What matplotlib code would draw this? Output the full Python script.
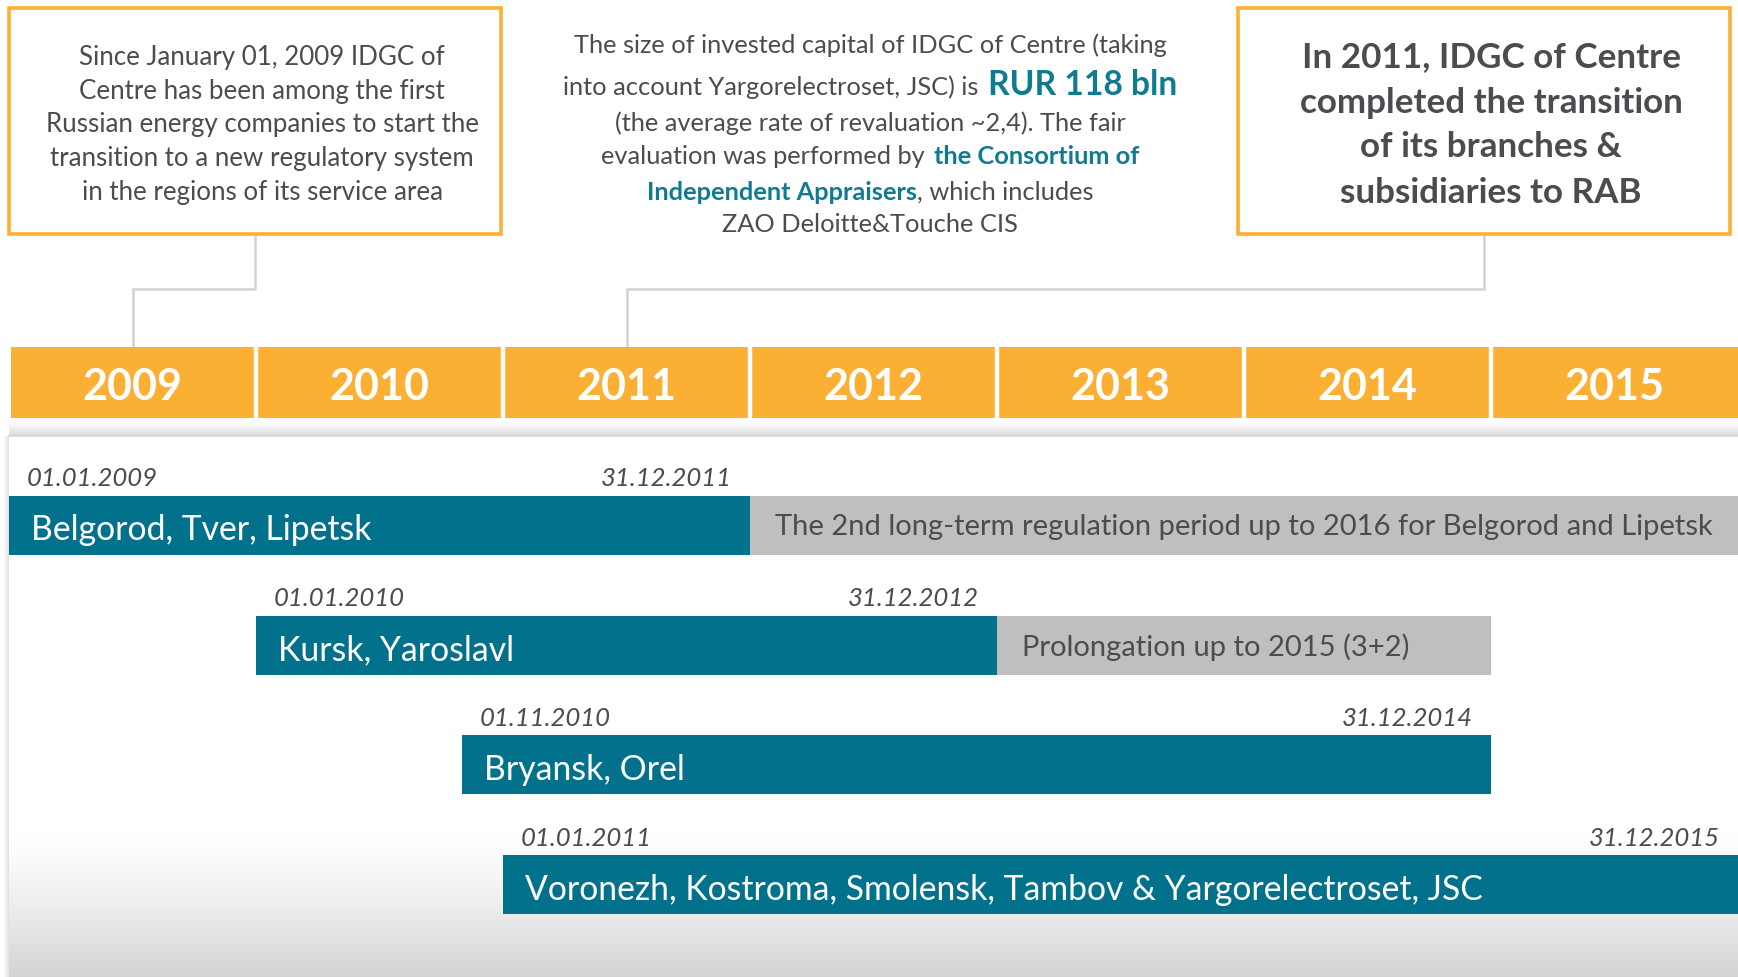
import matplotlib
matplotlib.use("Agg")
import matplotlib.pyplot as plt
import numpy as np
from matplotlib.patches import Rectangle
from matplotlib.offsetbox import TextArea, HPacker, AnnotationBbox

W, H, DPI = 1738, 978, 100

# ---------------- data ----------------
years = [2009, 2010, 2011, 2012, 2013, 2014, 2015]
groups = ["Belgorod, Tver, Lipetsk",
          "Kursk, Yaroslavl",
          "Bryansk, Orel",
          "Voronezh, Kostroma, Smolensk, Tambov & Yargorelectroset, JSC"]
period_start = [2009.0, 2010.0, 2010 + 10 / 12, 2011.0]
period_end = [2012.0, 2013.0, 2015.0, 2016.0]
start_labels = ["01.01.2009", "01.01.2010", "01.11.2010", "01.01.2011"]
end_labels = ["31.12.2011", "31.12.2012", "31.12.2014", "31.12.2015"]
ext_end = [2016.3, 2015.0, None, None]
ext_labels = ["The 2nd long-term regulation period up to 2016 for Belgorod and Lipetsk",
              "Prolongation up to 2015 (3+2)", None, None]

left_note = ["Since January 01, 2009 IDGC of",
             "Centre has been among the first",
             "Russian energy companies to start the",
             "transition to a new regulatory system",
             "in the regions of its service area"]
# middle note: list of lines, each a list of (text, highlight level)
mid_note = [[("The size of invested capital of IDGC of Centre (taking", 0)],
            [("into account Yargorelectroset, JSC) is", 0), ("RUR 118 bln", 2)],
            [("(the average rate of revaluation ~2,4). The fair", 0)],
            [("evaluation was performed by", 0), ("the Consortium of", 1)],
            [("Independent Appraisers", 1), (", which includes", 0)],
            [("ZAO Deloitte&Touche CIS", 0)]]
right_note = ["In 2011, IDGC of Centre",
              "completed the transition",
              "of its branches &",
              "subsidiaries to RAB"]
left_note_year = 2009
right_note_year = 2011

# ---------------- style ----------------
ORANGE = "#FBB034"
TEAL = "#02718C"
GREY_BAR = "#BFBFBF"
TXT = "#4B4B50"
TEAL_TXT = "#0F7B90"
LINE = "#D2D2D2"
FONT = "Lato"

fig = plt.figure(figsize=(W / DPI, H / DPI), dpi=DPI)
fig.patch.set_facecolor("white")

# pixel axes for decoration
axp = fig.add_axes([0, 0, 1, 1])
axp.set_xlim(0, W)
axp.set_ylim(H, 0)
axp.axis("off")

# timeline axes: x in years, y in pixels from top
PX_PER_YEAR = 247.0
X0 = 9.0
ax = fig.add_axes([0, 0, 1, 1])
ax.set_xlim(2009 - X0 / PX_PER_YEAR, 2009 + (W - X0) / PX_PER_YEAR)
ax.set_ylim(H, 0)
ax.axis("off")
ax.patch.set_visible(False)


def px(dx):
    return dx / PX_PER_YEAR


# ---------------- background panel ----------------
sh = np.linspace(0, 1, 50)[:, None] ** 1.5
sh_img = np.ones((50, 2, 3)) * (1 - 0.16 * sh)[:, :, None]
axp.imshow(sh_img, extent=(X0, W, 437, 421), aspect="auto", zorder=0, interpolation="bilinear")
axp.plot([X0, W], [437, 437], color="#D6D6D6", lw=1.2, zorder=1)
ls = np.linspace(0, 1, 20)[None, :] ** 1.5
ls_img = np.ones((2, 20, 3)) * (1 - 0.12 * ls)[:, :, None]
axp.imshow(ls_img, extent=(2, X0, H, 437), aspect="auto", zorder=0, interpolation="bilinear")
g = np.linspace(0, 1, 200)[:, None] ** 1.3
g_img = np.ones((200, 2, 3)) * (1 - 0.17 * g)[:, :, None]
axp.imshow(g_img, extent=(X0, W, H, 835), aspect="auto", zorder=0, interpolation="bilinear")

# ---------------- year band ----------------
gap = px(4.4)
band_top, band_h = 348, 71
ax.bar([y + gap / 2 for y in years], band_h, width=1 - gap / 2, bottom=band_top, align="edge",
       color=ORANGE, edgecolor="none", zorder=2)
for yr in years:
    ax.text(yr + 0.5, band_top + band_h / 2 + 3, str(yr), ha="center", va="center",
            color="white", fontsize=31, fontweight="bold", family=FONT, zorder=3)
# white separators between year cells
for yr in years[1:]:
    ax.axvline(yr, ymin=1 - (band_top + band_h) / H, ymax=1 - band_top / H,
               color="white", lw=3.2, zorder=2.5)

# ---------------- period bars ----------------
bar_h = 59
for i, name in enumerate(groups):
    top = 497 + 119.7 * i
    s, e = period_start[i], period_end[i]
    if ext_end[i] is not None:
        ax.barh(top + bar_h / 2, ext_end[i] - e, left=e, height=bar_h,
                color=GREY_BAR, edgecolor="none", zorder=2)
        ax.text(e + px(25), top + bar_h / 2 + 1, ext_labels[i], ha="left", va="center",
                color=TXT, fontsize=21, family=FONT, zorder=3)
    ax.barh(top + bar_h / 2, e - s, left=s, height=bar_h, color=TEAL,
            edgecolor="none", zorder=2)
    ax.text(s + px(22), top + bar_h / 2 + 4, name, ha="left", va="center",
            color="white", fontsize=24.3, family=FONT, zorder=3)
    ax.text(s + px(18), top - 18, start_labels[i], ha="left", va="center",
            color=TXT, fontsize=18.5, style="italic", family=FONT, zorder=3)
    ax.text(e - px(18), top - 18, end_labels[i], ha="right", va="center",
            color=TXT, fontsize=18.5, style="italic", family=FONT, zorder=3)

# ---------------- note boxes ----------------
def xpix(year):
    return X0 + (year - 2009) * PX_PER_YEAR


for (x0, x1) in [(9, 501), (1238, 1730)]:
    axp.add_patch(Rectangle((x0, 9), x1 - x0, 226, fill=False, edgecolor=ORANGE,
                            lw=2.6, zorder=3))

lx = 255
axp.plot([lx, lx, xpix(left_note_year + 0.5), xpix(left_note_year + 0.5)],
         [235, 290, 290, 347], color=LINE, lw=1.8, zorder=1, solid_joinstyle="miter")
rx = 1484
axp.plot([rx, rx, xpix(right_note_year + 0.5), xpix(right_note_year + 0.5)],
         [235, 290, 290, 347], color=LINE, lw=1.8, zorder=1, solid_joinstyle="miter")

left_y = [57.5, 91.5, 124.5, 158.5, 192.5]
for t, y in zip(left_note, left_y):
    axp.text(262, y, t, ha="center", va="center", color=TXT, fontsize=18.6, family=FONT)

right_y = [57, 103, 147, 193]
for t, y in zip(right_note, right_y):
    axp.text(1491, y, t, ha="center", va="center", color=TXT, fontsize=25.2,
             fontweight="bold", family=FONT)

mid_y = [45, 85, 123, 157, 192, 225]
for parts, y in zip(mid_note, mid_y):
    boxes = []
    for text, hl in parts:
        if hl == 0:
            props = dict(color=TXT, fontsize=18.3, family=FONT)
        elif hl == 1:
            props = dict(color=TEAL_TXT, fontsize=18.3, family=FONT, fontweight="bold")
        else:
            props = dict(color=TEAL_TXT, fontsize=24.2, family=FONT, fontweight="bold")
        boxes.append(TextArea(text, textprops=props))
    sep = 7 if (len(parts) > 1 and not parts[1][0].startswith(",")) else 0
    pack = HPacker(children=boxes, align="baseline", pad=0, sep=sep)
    ab = AnnotationBbox(pack, (870, y), xycoords="data", frameon=False,
                        box_alignment=(0.5, 0.5), pad=0)
    axp.add_artist(ab)

fig.savefig("out.png", dpi=DPI)
